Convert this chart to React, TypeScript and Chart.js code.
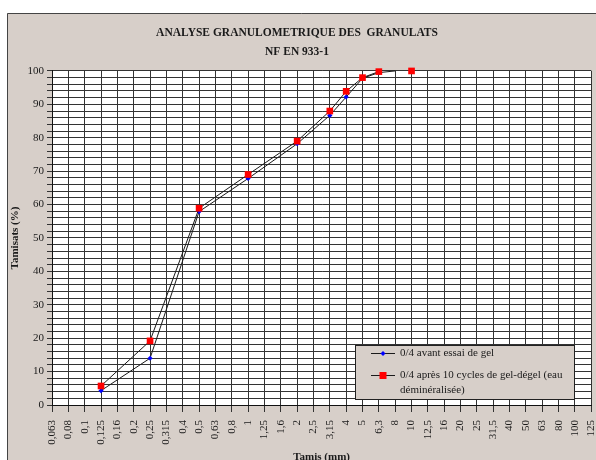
import React, { useEffect, useRef } from 'react';
import { Chart, registerables } from 'chart.js';

Chart.register(...registerables);

// Category axis: sieve openings (mm)
const sieves = [
  '0,063', '0,08', '0,1', '0,125', '0,16', '0,2', '0,25', '0,315', '0,4', '0,5', '0,63', '0,8',
  '1', '1,25', '1,6', '2', '2,5', '3,15', '4', '5', '6,3', '8', '10', '12,5', '16', '20', '25',
  '31,5', '40', '50', '63', '80', '100', '125',
];

// Series 1: 0/4 avant essai de gel
const blueLabel = ['0/4 avant essai de gel'];
const blueSieves = ['0,125', '0,25', '0,5', '1', '2', '3,15', '4', '5', '6,3', '8'];
const blueValues = [4.3, 14, 57.9, 67.8, 78.2, 86.7, 92.2, 97.8, 99.5, 100];

// Series 2: 0/4 après 10 cycles de gel-dégel
const redLabel = ['0/4 après 10 cycles de gel-dégel (eau', 'déminéralisée)'];
const redSieves = ['0,125', '0,25', '0,5', '1', '2', '3,15', '4', '5', '6,3', '10'];
const redValues = [5.7, 19.2, 58.9, 69, 79, 88, 93.9, 98, 99.8, 100];
const redUnjoined = ['10'];

const titleLines = ['ANALYSE GRANULOMETRIQUE DES  GRANULATS', 'NF EN 933-1'];
const yTitle = 'Tamisats (%)';
const xTitle = 'Tamis (mm)';

const FONT = "'Liberation Serif', 'Times New Roman', serif";
const FRAME = '#D7CFC9';
const GRID = '#333333';
const INK = '#1a1a1a';

export default function App() {
  const ref = useRef<HTMLCanvasElement>(null);

  useEffect(() => {
    document.body.style.margin = '0';
    const canvas = ref.current;
    if (!canvas) return;

    const bgPlugin = {
      id: 'bgPlugin',
      beforeDraw(chart: any) {
        const ctx = chart.ctx;
        const a = chart.chartArea;
        ctx.save();
        ctx.fillStyle = '#ffffff';
        ctx.fillRect(0, 0, chart.width, chart.height);
        ctx.fillStyle = FRAME;
        ctx.fillRect(7, 13, chart.width, chart.height);
        ctx.strokeStyle = '#444';
        ctx.lineWidth = 1;
        ctx.beginPath();
        ctx.moveTo(7.5, chart.height);
        ctx.lineTo(7.5, 13.5);
        ctx.lineTo(chart.width, 13.5);
        ctx.stroke();
        ctx.fillStyle = '#ffffff';
        ctx.fillRect(a.left, a.top, a.right - a.left, a.bottom - a.top);
        ctx.restore();
      },
    };

    const legendPlugin = {
      id: 'legendPlugin',
      afterDraw(chart: any) {
        const ctx = chart.ctx;
        ctx.save();
        const x0 = 355.5, y0 = 345.5, w = 219, h = 54;
        ctx.fillStyle = FRAME;
        ctx.fillRect(x0, y0, w, h);
        ctx.strokeStyle = '#222';
        ctx.lineWidth = 1;
        ctx.strokeRect(x0, y0, w, h);

        const entries = [
          { lines: blueLabel, y: 353, kind: 'blue' },
          { lines: redLabel, y: 375, kind: 'red' },
        ];
        ctx.font = `11px ${FONT}`;
        ctx.textBaseline = 'middle';
        ctx.textAlign = 'left';
        entries.forEach((e) => {
          ctx.strokeStyle = INK;
          ctx.lineWidth = 1;
          ctx.beginPath();
          ctx.moveTo(371, e.y + 0.5);
          ctx.lineTo(395, e.y + 0.5);
          ctx.stroke();
          const cx = 383, cy = e.y + 0.5;
          if (e.kind === 'blue') {
            ctx.fillStyle = '#0000FF';
            ctx.beginPath();
            ctx.moveTo(cx - 2.5, cy);
            ctx.lineTo(cx, cy - 2.5);
            ctx.lineTo(cx + 2.5, cy);
            ctx.lineTo(cx, cy + 2.5);
            ctx.closePath();
            ctx.fill();
          } else {
            ctx.fillStyle = '#FF0000';
            ctx.fillRect(cx - 3.5, cy - 3.5, 7, 7);
          }
          ctx.fillStyle = INK;
          e.lines.forEach((t, i) => ctx.fillText(t, 400, e.y + i * 15.5));
        });
        ctx.restore();
      },
    };

    const chart = new Chart(canvas, {
      type: 'line',
      data: {
        labels: sieves,
        datasets: [
          {
            label: redLabel.join(' '),
            data: redSieves.map((s, i) => ({ x: s, y: redValues[i] })) as any,
            borderColor: INK,
            borderWidth: 1,
            pointStyle: 'rect',
            pointRadius: 4.7,
            pointBackgroundColor: '#FF0000',
            pointBorderColor: '#FF0000',
            pointBorderWidth: 0,
            tension: 0,
            clip: false as any,
            segment: {
              borderColor: (ctx: any) =>
                redUnjoined.includes(sieves[ctx.p1.parsed.x]) ? 'rgba(0,0,0,0)' : undefined,
            },
          },
          {
            label: blueLabel.join(' '),
            data: blueSieves.map((s, i) => ({ x: s, y: blueValues[i] })) as any,
            borderColor: INK,
            borderWidth: 1,
            pointStyle: 'rectRot',
            pointRadius: (ctx: any) => (ctx.raw && ctx.raw.y >= 100 ? 0 : 2.6),
            pointBackgroundColor: '#0000FF',
            pointBorderColor: '#0000FF',
            pointBorderWidth: 0,
            tension: 0,
            clip: false as any,
          },
        ],
      },
      options: {
        responsive: false,
        animation: false,
        events: [],
        layout: { padding: { left: 0, right: 2, top: 0, bottom: 0 } },
        plugins: {
          legend: { display: false },
          tooltip: { enabled: false },
          title: {
            display: true,
            text: titleLines,
            color: INK,
            font: { family: FONT, size: 11.5, weight: 'bold', lineHeight: 1.65 },
            padding: { top: 23.5, bottom: 9.5 },
          },
        },
        scales: {
          x: {
            type: 'category',
            offset: false,
            grid: { color: GRID, lineWidth: 1, tickLength: 7, drawOnChartArea: true },
            border: { color: '#111', width: 1 },
            ticks: {
              autoSkip: false,
              maxRotation: 90,
              minRotation: 90,
              padding: 8,
              color: INK,
              font: { family: FONT, size: 11 },
            },
            title: {
              display: true,
              text: xTitle,
              color: INK,
              font: { family: FONT, size: 11, weight: 'bold' },
              padding: { top: 0, bottom: -4 },
            },
            afterFit(s: any) {
              s.height = 55;
              s.paddingLeft = 0;
              s.paddingRight = 0;
            },
          },
          y: {
            min: 0,
            max: 100,
            grid: { color: GRID, lineWidth: 1, tickLength: 5 },
            border: { color: '#111', width: 1 },
            ticks: {
              stepSize: 2,
              autoSkip: false,
              padding: 3,
              color: INK,
              font: { family: FONT, size: 11 },
              callback: (v: any) => (Number(v) % 10 === 0 ? String(v) : ''),
            },
            title: {
              display: true,
              text: yTitle,
              color: INK,
              font: { family: FONT, size: 11, weight: 'bold' },
              padding: { top: 9, bottom: 0 },
            },
            afterFit(s: any) {
              s.width = 52;
            },
          },
        },
      },
      plugins: [bgPlugin, legendPlugin],
    });

    return () => chart.destroy();
  }, []);

  return (
    <div style={{ position: 'absolute', left: 0, top: 0, width: 596, height: 460 }}>
      <canvas ref={ref} width={596} height={460} style={{ display: 'block' }} />
    </div>
  );
}
